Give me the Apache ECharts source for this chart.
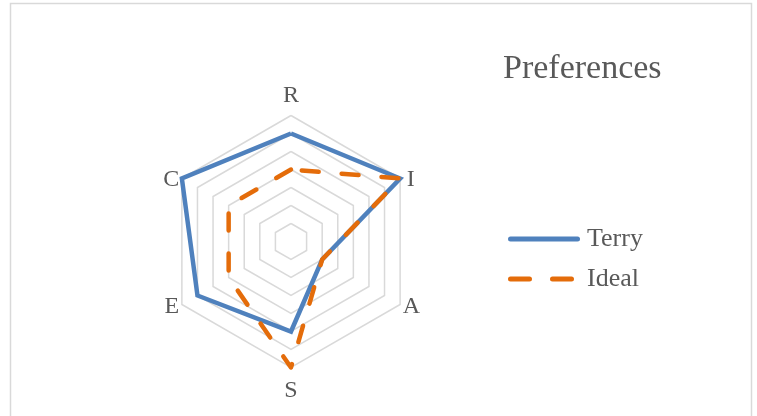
<!DOCTYPE html>
<html>
<head>
<meta charset="utf-8">
<script src="https://cdn.jsdelivr.net/npm/echarts@6/dist/echarts.min.js"></script>
<style>
html,body{margin:0;padding:0;background:#fff;}
#chart{width:757px;height:416px;}
</style>
</head>
<body>
<div id="chart"></div>
<script>
// Categories in drawing order (counter-clockwise from top)
const categories = ['R', 'C', 'E', 'S', 'A', 'I'];
const terry = [6, 7, 6, 5, 2, 7];
const ideal = [4, 4, 4, 7, 2, 7];
const seriesNames = ['Terry', 'Ideal'];
const axisMax = 7;

const FONT = '"Liberation Serif", "DejaVu Serif", serif';
const TEXT = '#595959';
const BLUE = '#4F81BD';
const ORANGE = '#E46C0A';

const baseName = {fontFamily: FONT, fontSize: 24, color: TEXT};
const namePad = {R: [0, 0, 5, 0], S: [8, 0, 0, 0], I: [6, 0, 0, 4], A: [2, 0, 0, 0], C: [6, 0, 0, 0], E: [2, 0, 0, 0]};
const rich = {};
categories.forEach(c => { rich[c] = Object.assign({}, baseName, {padding: namePad[c]}); });

const chart = echarts.init(document.getElementById('chart'), null, {renderer: 'canvas'});
chart.setOption({
  animation: false,
  backgroundColor: '#fff',
  title: {
    text: 'Preferences',
    left: 498,
    top: 47,
    textStyle: {fontFamily: FONT, fontSize: 34, fontWeight: 'normal', color: TEXT}
  },
  legend: {
    orient: 'vertical',
    left: 508,
    top: 226,
    padding: 0,
    itemWidth: 72,
    itemHeight: 5,
    itemGap: 14,
    textStyle: {fontFamily: FONT, fontSize: 26, color: TEXT, padding: [0, 0, 0, 2]},
    data: [
      {name: seriesNames[0], icon: 'path://M2.5,0H69.5A2.5,2.5 0 0 1 69.5,5H2.5A2.5,2.5 0 0 1 2.5,0Z'},
      {name: seriesNames[1], icon: 'path://M2.5,0H21.5A2.5,2.5 0 0 1 21.5,5H2.5A2.5,2.5 0 0 1 2.5,0Z M44.5,0H63.5A2.5,2.5 0 0 1 63.5,5H44.5A2.5,2.5 0 0 1 44.5,0Z M72,5Z'}
    ]
  },
  graphic: [{
    type: 'rect',
    shape: {x: 10.5, y: 3.5, width: 741, height: 430},
    style: {fill: 'none', stroke: '#d9d9d9', lineWidth: 1.5},
    silent: true,
    z: -1
  }],
  radar: {
    center: [291, 241.5],
    radius: 126,
    startAngle: 90,
    shape: 'polygon',
    splitNumber: axisMax,
    indicator: categories.map(c => ({name: c, min: 0, max: axisMax})),
    nameGap: 3,
    axisName: {
      fontFamily: FONT, fontSize: 24, color: TEXT,
      formatter: (name) => '{' + name + '|' + name + '}',
      rich: rich
    },
    axisLine: {show: false},
    axisTick: {show: false},
    axisLabel: {show: false},
    splitLine: {lineStyle: {color: '#d9d9d9', width: 1.5}},
    splitArea: {show: false}
  },
  series: [{
    type: 'radar',
    symbol: 'none',
    data: [
      {
        name: seriesNames[0],
        value: terry,
        itemStyle: {color: BLUE},
        lineStyle: {color: BLUE, width: 4.5, join: 'miter'}
      },
      {
        name: seriesNames[1],
        value: ideal,
        itemStyle: {color: ORANGE},
        lineStyle: {color: ORANGE, width: 4.5, type: [17, 23], cap: 'round', join: 'round'}
      }
    ]
  }]
});
</script>
</body>
</html>
